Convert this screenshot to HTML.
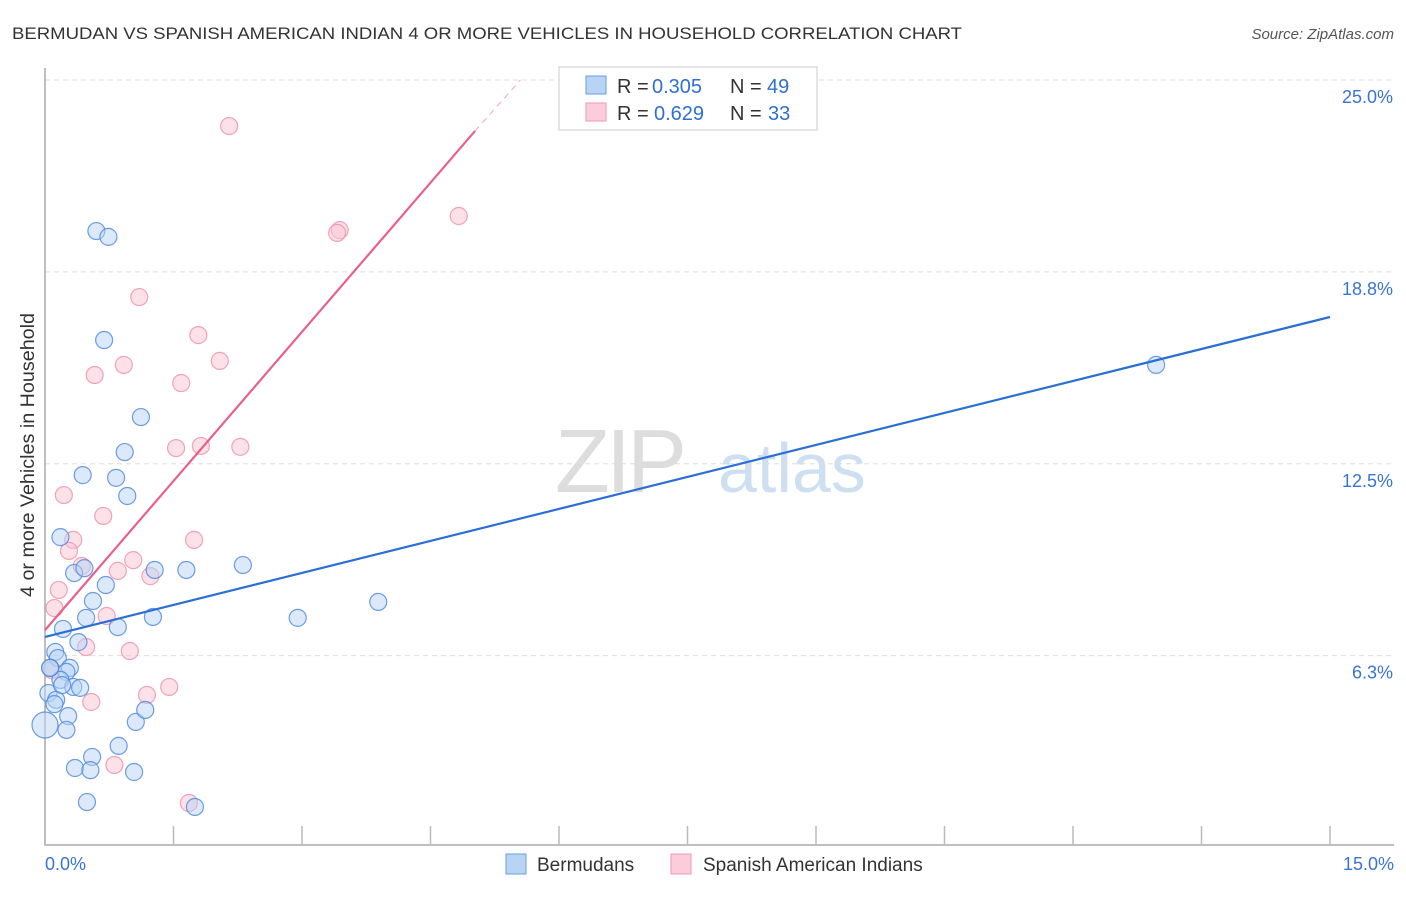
<!DOCTYPE html>
<html><head><meta charset="utf-8"><style>
body{margin:0;background:#fff;font-family:"Liberation Sans",sans-serif}
svg text{font-family:"Liberation Sans",sans-serif}
</style></head><body>
<svg id="c" width="1406" height="892" xmlns="http://www.w3.org/2000/svg">
<text x="12" y="39" font-size="17" fill="#333" textLength="950" lengthAdjust="spacingAndGlyphs">BERMUDAN VS SPANISH AMERICAN INDIAN 4 OR MORE VEHICLES IN HOUSEHOLD CORRELATION CHART</text>
<text x="1394" y="39" font-size="15" fill="#555" text-anchor="end" font-style="italic">Source: ZipAtlas.com</text>
<g><text x="555" y="492" font-size="90" fill="#ddd" font-family="Liberation Serif" letter-spacing="-4">ZIP</text><text x="718" y="492" font-size="70" fill="#cfdff2">atlas</text></g>
<g id="grid"></g><g id="axes"></g><g id="pts"></g><g id="lines"></g>
<text transform="translate(34,455) rotate(-90)" font-size="19" fill="#333" text-anchor="middle" textLength="284" lengthAdjust="spacingAndGlyphs">4 or more Vehicles in Household</text>
<g>
<rect x="559" y="67" width="258" height="63" fill="#fff" stroke="#ccc"/>
<rect x="586" y="76" width="20" height="18" fill="#b8d4f5" stroke="#6a9de0"/>
<rect x="586" y="103" width="20" height="18" fill="#fbcddb" stroke="#ee9ab3"/>
<text x="617" y="93" font-size="20" fill="#333">R =</text><text x="652" y="93" font-size="20" fill="#2f6fd0">0.305</text>
<text x="730" y="93" font-size="20" fill="#333">N =</text><text x="767" y="93" font-size="20" fill="#2f6fd0">49</text>
<text x="617" y="120" font-size="20" fill="#333">R =</text><text x="654" y="120" font-size="20" fill="#2f6fd0">0.629</text>
<text x="730" y="120" font-size="20" fill="#333">N =</text><text x="768" y="120" font-size="20" fill="#2f6fd0">33</text>
</g>
<g>
<rect x="506" y="854" width="20" height="20" fill="#b8d4f5" stroke="#6a9de0"/>
<text x="537" y="871" font-size="19" fill="#333">Bermudans</text>
<rect x="671" y="854" width="20" height="20" fill="#fbcddb" stroke="#ee9ab3"/>
<text x="703" y="871" font-size="19" fill="#333">Spanish American Indians</text>
</g>
</svg>
<script>
const yTicks=[25,18.75,12.5,6.25];
const yTickLabels=["25.0%","18.8%","12.5%","6.3%"];
const xTickLabels=["0.0%","15.0%"];
const blueX=[0.60,0.74,0.69,1.12,0.93,0.44,0.83,0.96,0.18,0.34,0.46,0.71,1.28,1.65,2.31,0.56,0.48,0.85,1.26,2.95,3.89,0.21,0.39,0.12,0.15,0.06,0.29,0.25,0.18,0.33,0.41,0.04,0.13,0.11,0.27,1.06,1.17,0.25,0.0,0.55,0.86,0.35,0.53,1.04,0.49,1.75,12.97,0.06,0.20];
const blueY=[20.08,19.89,16.53,14.02,12.88,12.13,12.04,11.45,10.11,8.94,9.10,8.55,9.04,9.04,9.20,8.03,7.48,7.18,7.51,7.48,8.00,7.12,6.69,6.37,6.17,5.85,5.85,5.72,5.46,5.23,5.20,5.03,4.81,4.67,4.28,4.09,4.48,3.83,3.99,2.95,3.31,2.59,2.52,2.46,1.48,1.32,15.72,5.85,5.29];
const pinkX=[2.15,4.83,3.44,3.41,1.10,1.79,2.04,0.92,0.58,1.59,1.53,1.82,2.28,0.22,0.68,0.33,1.74,0.28,0.43,1.03,0.85,1.23,0.16,0.11,0.72,0.48,0.99,1.45,1.19,0.54,0.81,1.68,0.08];
const pinkY=[23.50,20.57,20.11,20.02,17.93,16.69,15.85,15.72,15.39,15.13,13.01,13.08,13.05,11.48,10.80,10.02,10.02,9.66,9.17,9.36,9.01,8.84,8.39,7.80,7.54,6.53,6.40,5.23,4.97,4.74,2.69,1.45,5.78];
const blueLine=[[0,6.86],[15,17.28]];
const pinkLine=[[0,7.08],[5.02,23.34]];
const pinkDash=[[5.02,23.34],[5.55,25.0]];
const X=v=>45+v/15*1285, Y=v=>80+(25-v)*30.7;
const NS="http://www.w3.org/2000/svg";
function mk(t,a,p){const e=document.createElementNS(NS,t);for(const k in a)e.setAttribute(k,a[k]);p.appendChild(e);return e;}
const grid=document.getElementById('grid'),axes=document.getElementById('axes'),pts=document.getElementById('pts'),lines=document.getElementById('lines');
yTicks.forEach((v,i)=>{
 const l=mk('line',{x1:45,x2:1394,y1:Y(v),y2:Y(v),stroke:'#ddd','stroke-dasharray':'5,4'},grid);
 
 
 const t=mk('text',{x:1393,y:Y(v)+23,'font-size':18,fill:'#3b74d0','text-anchor':'end'},axes);
 t.textContent=yTickLabels[i];
 
 
});
const ax=mk('path',{d:`M45,68 V845 H1394`,fill:'none',stroke:'#aaa','stroke-width':1.5},axes);


for(let i=1;i<=10;i++){
 const tk=mk('line',{x1:X(i*1.5),x2:X(i*1.5),y1:826,y2:845,stroke:'#bbb','stroke-width':1.5},axes);
 
 
}
[[0,'start',45],[15,'end',1394]].forEach((d,i)=>{
 const t=mk('text',{x:d[2],y:870,'font-size':18,fill:'#3b74d0','text-anchor':d[1]},axes);
 t.textContent=xTickLabels[i];
 
 
});
function dots(xs,ys,fill,stroke,name){xs.forEach((x,i)=>{
 const c=mk('circle',{cx:X(x),cy:Y(ys[i]),r:(x===0?13:8.5),fill:fill,'fill-opacity':0.5,stroke:stroke,'stroke-opacity':0.8,'stroke-width':1.2},pts);
 
 
});}
dots(pinkX,pinkY,'#f9c4d4','#ec8fab','spanish-american-indian-point');
dots(blueX,blueY,'#b8d4f5','#4a86dc','bermudan-point');
function ln(p,col,name,dash){
 const l=mk('line',{x1:X(p[0][0]),y1:Y(p[0][1]),x2:X(p[1][0]),y2:Y(p[1][1]),stroke:col,'stroke-width':dash?1:2.2},lines);
 if(dash)l.setAttribute('stroke-dasharray','6,5');
 
 
}
ln(blueLine,'#2a6fd6','bermudan-trend-line');
ln(pinkLine,'#e8608c','spanish-american-indian-trend-line');
ln(pinkDash,'#f0a8bf','spanish-american-indian-trend-extension',true);
</script>
</body></html>
